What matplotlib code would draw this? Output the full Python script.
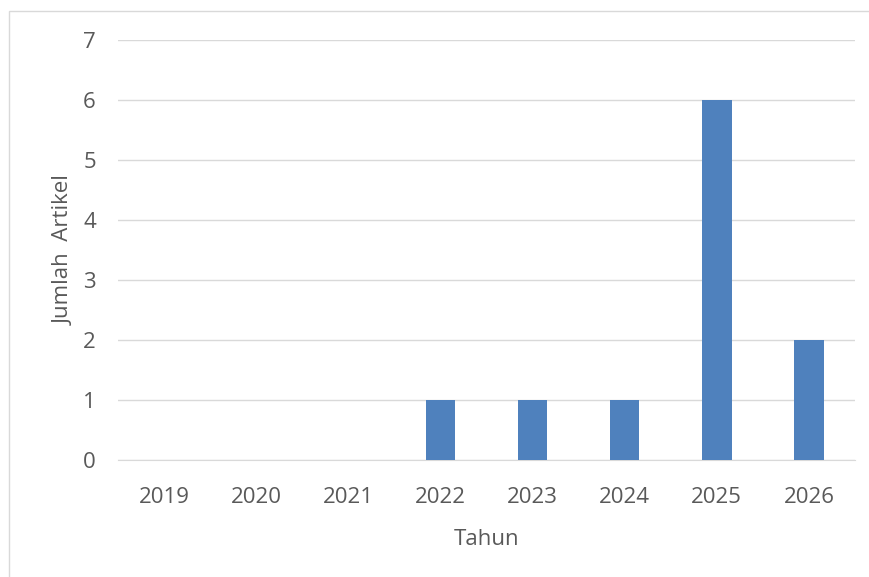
import matplotlib.pyplot as plt
from matplotlib.patches import Rectangle

years = ["2019", "2020", "2021", "2022", "2023", "2024", "2025", "2026"]
counts = [0, 0, 0, 1, 1, 1, 6, 2]
y_ticks = [0, 1, 2, 3, 4, 5, 6, 7]

plt.rcParams["font.family"] = ["Open Sans", "DejaVu Sans"]
text_color = "#595959"
fs = 16

fig = plt.figure(figsize=(8.7, 5.77), dpi=100)
fig.patches.append(Rectangle((9 / 870, -0.1), 1.2, (577 - 11) / 577 + 0.1,
                             transform=fig.transFigure, fill=False,
                             edgecolor="#D9D9D9", linewidth=1))

ax = fig.add_axes([118 / 870, (577 - 460) / 577, (855 - 118) / 870, 420 / 577])
x = range(len(years))
ax.bar(x, counts, width=0.32, color="#4F81BD", zorder=3)

ax.set_xlim(-0.5, len(years) - 0.5)
ax.set_ylim(0, 7)
ax.set_yticks(y_ticks)
ax.set_xticks(list(x))
ax.set_xticklabels(years)
ax.grid(axis="y", color="#D9D9D9", linewidth=1, zorder=0)
ax.set_axisbelow(True)
for s in ["top", "right", "left"]:
    ax.spines[s].set_visible(False)
ax.spines["bottom"].set_color("#D9D9D9")
ax.tick_params(length=0, labelsize=fs, colors=text_color)
ax.tick_params(axis="x", pad=19.5)
ax.tick_params(axis="y", pad=16)

ax.set_xlabel("Tahun", fontsize=fs, color=text_color, labelpad=15)
ax.set_ylabel("Jumlah  Artikel", fontsize=fs, color=text_color, labelpad=6)

fig.savefig("out.png", dpi=100)
